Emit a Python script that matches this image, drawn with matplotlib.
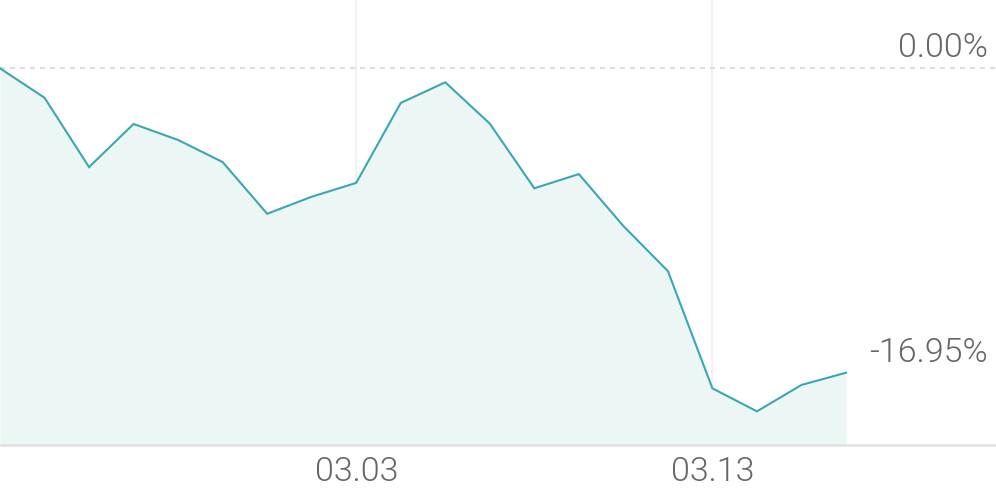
import matplotlib
matplotlib.use("Agg")
import matplotlib.pyplot as plt
import matplotlib.transforms as mtransforms
import numpy as np

# Data (cumulative return, %)
returns = [0.00, -1.64, -5.50, -3.10, -3.99, -5.22, -8.10, -7.15, -6.38, -1.93,
           -0.78, -3.08, -6.68, -5.89, -8.78, -11.29, -17.82, -19.10, -17.63, -16.95]
tick_positions = [8, 16]
tick_labels = ["03.03", "03.13"]
ref_labels = ["0.00%", "-16.95%"]
ref_values = [0.00, -16.95]

plt.rcParams['font.family'] = ['Roboto', 'DejaVu Sans']

W, H = 996, 490
fig = plt.figure(figsize=(W / 100, H / 100), dpi=100)
bottom_px = 445
ax = fig.add_axes([0, (H - bottom_px) / H, 1, bottom_px / H])

x = np.arange(len(returns))
px_per_unit_x = 846 / (len(returns) - 1)
ax.set_xlim(0, W / px_per_unit_x)
px_per_pct = 17.96
ax.set_ylim(-(bottom_px - 68.3) / px_per_pct, 68.3 / px_per_pct)

line_color = "#3aa7b2"
fill_color = "#ecf6f4"
ymin = ax.get_ylim()[0]
ax.fill_between(x, returns, ymin, color=fill_color, lw=0, zorder=1)
ax.plot(x, returns, color=line_color, lw=1.5, zorder=3, solid_joinstyle='miter')

ax.axhline(0, color="#dddddd", lw=1.44, linestyle=(0, (2.5, 2.5)), zorder=2)

for t in tick_positions:
    ax.axvline(t, color="#f2f2f2", lw=1.5, zorder=0.5)

for s in ["top", "right", "left"]:
    ax.spines[s].set_visible(False)
ax.spines["bottom"].set_color("#e3e3e3")
ax.spines["bottom"].set_linewidth(2.0)
ax.spines["bottom"].set_zorder(4)

ax.set_yticks([])
ax.set_xticks(tick_positions)
ax.set_xticklabels(tick_labels, fontsize=24.5, color="#666666", fontweight=300)
ax.tick_params(axis="x", length=0, pad=8)

trans = mtransforms.blended_transform_factory(ax.transAxes, ax.transData)
for lab, val in zip(ref_labels, ref_values):
    ax.annotate(lab, xy=(988 / W, val), xycoords=trans,
                xytext=(0, 14.5), textcoords="offset points",
                ha="right", va="center", fontsize=24.5, color="#666666",
                fontweight=300)

fig.savefig("out.png", dpi=100)
